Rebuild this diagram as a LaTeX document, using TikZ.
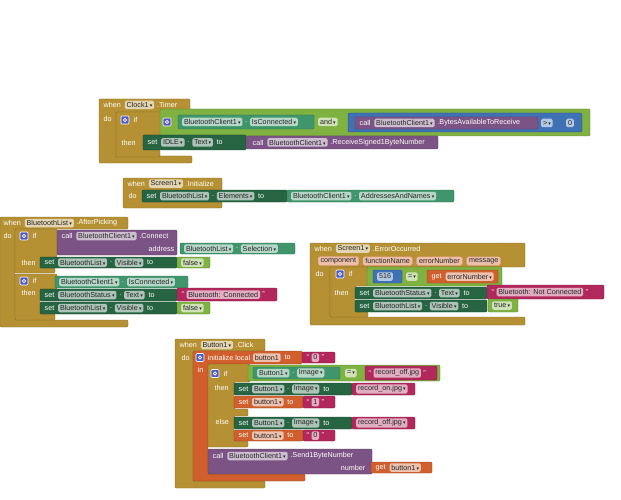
\documentclass[tikz,border=0pt]{standalone}
\usepackage{fontspec}
\setmainfont{Liberation Sans}
\newfontfamily\arrowfont{DejaVu Sans}
\usetikzlibrary{positioning}
\definecolor{cgold}{RGB}{182,145,52}
\definecolor{clime}{RGB}{128,178,66}
\definecolor{cteal}{RGB}{64,150,108}
\definecolor{cset}{RGB}{38,100,66}
\definecolor{cpurple}{RGB}{124,83,133}
\definecolor{cmag}{RGB}{178,40,92}
\definecolor{cblue}{RGB}{63,113,181}
\definecolor{corange}{RGB}{208,95,45}
\definecolor{cgear}{RGB}{84,92,196}
\newcommand{\dd}{\,{\arrowfont\fontsize{5}{5}\selectfont ▾}}
\tikzset{
  blk/.style={fill=#1,draw=#1!72!black,line width=.4pt,rounded corners=1.2pt},
  lbl/.style={text=white,inner sep=.5pt},
  fld/.style={fill=white,fill opacity=.62,text opacity=1,text=black!85,
    rounded corners=1.5pt,inner xsep=1.8pt,inner ysep=1.3pt,minimum height=8.5pt},
  prm/.style={fld,fill=corange!40!white,fill opacity=1,draw=corange!60!white,inner xsep=2.4pt},
  gearbox/.style={fill=cgear,draw=white,line width=.6pt,minimum size=8pt,
    inner sep=0pt,rounded corners=1pt,
    path picture={\draw[white,line width=.8pt]
      (path picture bounding box.center) circle (1.6pt);}}
}
\begin{document}
\begin{tikzpicture}[x=1pt,y=-1pt,font=\fontsize{7.2}{8}\selectfont]
\useasboundingbox (0,0) rectangle (621,500);
% --- Clock1.Timer
\draw[blk=cgold] (99,99) -- (190,99) -- (190,112) -- (116,112) -- (116,156) -- (192,156) -- (192,163) -- (99,163) -- cycle;
\draw[blk=cgold] (116,112) -- (162,112) -- (162,135) -- (143,135) -- (143,150) -- (160,150) -- (160,157) -- (116,157) -- cycle;
\draw[blk=clime] (160,109) rectangle (590,136);
\draw[blk=cteal] (178,115) rectangle (314,129);
\draw[blk=cblue] (348,113) rectangle (582,132);
\draw[blk=cpurple] (355,117) rectangle (538,129);
\draw[blk=cset] (143,135) rectangle (246,150);
\draw[blk=cpurple] (246,136) rectangle (438,149);
\node[lbl,anchor=west] (tmrWhen) at (103,105) {when};
\node[fld,right=3pt of tmrWhen] (tmrClk) {Clock1\dd};
\node[lbl,right=2pt of tmrClk] (tmrEvt) {.Timer};
\node[lbl,anchor=west] (tmrDo) at (103,119) {do};
\node[gearbox] (tmrGear) at (125,120) {};
\node[lbl,anchor=west] (tmrIf) at (133,120) {if};
\node[lbl,anchor=west] (tmrThen) at (121,142.5) {then};
\node[gearbox] (tmrGearB) at (167,122) {};
\node[fld,anchor=west] (tmrBtc) at (182,122) {BluetoothClient1\dd};
\node[lbl,right=2pt of tmrBtc] (tmrDot) {.};
\node[fld,right=2pt of tmrDot] (tmrIsc) {IsConnected\dd};
\node[fld,anchor=west] (tmrAnd) at (318,122) {and\dd};
\node[lbl,anchor=west] (tmrCall) at (359,123) {call};
\node[fld,right=3pt of tmrCall] (tmrBtcB) {BluetoothClient1\dd};
\node[lbl,right=2pt of tmrBtcB] (tmrBytes) {.BytesAvailableToReceive};
\node[fld,anchor=west] (tmrGt) at (541,123) {>\dd};
\node[fld,anchor=west] (tmrZero) at (566,123) {0};
\node[lbl,anchor=west] (tmrSet) at (147,142.5) {set};
\node[fld,right=3pt of tmrSet] (tmrIdle) {IDLE\dd};
\node[lbl,right=2pt of tmrIdle] (tmrDotB) {.};
\node[fld,right=2pt of tmrDotB] (tmrText) {Text\dd};
\node[lbl,right=3pt of tmrText] (tmrTo) {to};
\node[lbl,anchor=west] (tmrCallB) at (252,142.5) {call};
\node[fld,right=3pt of tmrCallB] (tmrBtcC) {BluetoothClient1\dd};
\node[lbl,right=2pt of tmrBtcC] (tmrRecv) {.ReceiveSigned1ByteNumber};
% --- Screen1.Initialize
\draw[blk=cgold] (123,178) -- (222,178) -- (222,190) -- (142,190) -- (142,202) -- (222,202) -- (222,208) -- (123,208) -- cycle;
\draw[blk=cset] (142,190) rectangle (287,202);
\draw[blk=cteal] (287,190) rectangle (454,202);
\node[lbl,anchor=west] (iniWhen) at (127,183.5) {when};
\node[fld,right=3pt of iniWhen] (iniScr) {Screen1\dd};
\node[lbl,right=2pt of iniScr] (iniEvt) {.Initialize};
\node[lbl,anchor=west] (iniDo) at (128,196) {do};
\node[lbl,anchor=west] (iniSet) at (146,196) {set};
\node[fld,right=3pt of iniSet] (iniList) {BluetoothList\dd};
\node[lbl,right=2pt of iniList] (iniDot) {.};
\node[fld,right=2pt of iniDot] (iniElem) {Elements\dd};
\node[lbl,right=3pt of iniElem] (iniTo) {to};
\node[fld,anchor=west] (iniBtc) at (291,196) {BluetoothClient1\dd};
\node[lbl,right=2pt of iniBtc] (iniDotB) {.};
\node[fld,right=2pt of iniDotB] (iniAddr) {AddressesAndNames\dd};
% --- BluetoothList.AfterPicking
\draw[blk=cgold] (0,217) -- (128,217) -- (128,229) -- (15,229) -- (15,320) -- (128,320) -- (128,327) -- (0,327) -- cycle;
\draw[blk=cgold] (15,229) -- (57,229) -- (57,257) -- (40,257) -- (40,268) -- (55,268) -- (55,273) -- (15,273) -- cycle;
\draw[blk=cgold] (15,274) -- (57,274) -- (57,289) -- (40,289) -- (40,314) -- (55,314) -- (55,320) -- (15,320) -- cycle;
\draw[blk=cpurple] (57,230) rectangle (177,255);
\draw[blk=cteal] (180,243) rectangle (295,254);
\draw[blk=cset] (40,257) rectangle (177,268);
\draw[blk=clime] (177,257) rectangle (210,268);
\draw[blk=cteal] (55,276) rectangle (188,288);
\draw[blk=cset] (40,289) rectangle (177,301);
\draw[blk=cmag] (177,288) rectangle (277,301);
\draw[blk=cset] (40,302) rectangle (177,314);
\draw[blk=clime] (177,302) rectangle (210,314);
\node[lbl,anchor=west] (pckWhen) at (3,223) {when};
\node[fld,right=3pt of pckWhen] (pckList) {BluetoothList\dd};
\node[lbl,right=2pt of pckList] (pckEvt) {.AfterPicking};
\node[lbl,anchor=west] (pckDo) at (3,236) {do};
\node[gearbox] (pckGear) at (24,236) {};
\node[lbl,anchor=west] (pckIf) at (32,236) {if};
\node[lbl,anchor=west] (pckCall) at (61,236) {call};
\node[fld,right=3pt of pckCall] (pckBtc) {BluetoothClient1\dd};
\node[lbl,right=2pt of pckBtc] (pckConn) {.Connect};
\node[lbl,anchor=east] (pckAddr) at (175,248.5) {address};
\node[fld,anchor=west] (pckListB) at (184,248.5) {BluetoothList\dd};
\node[lbl,right=2pt of pckListB] (pckDot) {.};
\node[fld,right=2pt of pckDot] (pckSel) {Selection\dd};
\node[lbl,anchor=west] (pckThen) at (21,262.5) {then};
\node[lbl,anchor=west] (pckSet) at (44,262.5) {set};
\node[fld,right=3pt of pckSet] (pckListC) {BluetoothList\dd};
\node[lbl,right=2pt of pckListC] (pckDotB) {.};
\node[fld,right=2pt of pckDotB] (pckVis) {Visible\dd};
\node[lbl,right=3pt of pckVis] (pckTo) {to};
\node[fld,anchor=west] (pckFalse) at (181,262.5) {false\dd};
\node[gearbox] (pckGearB) at (24,281) {};
\node[lbl,anchor=west] (pckIfB) at (32,281) {if};
\node[fld,anchor=west] (pckBtcB) at (59,282) {BluetoothClient1\dd};
\node[lbl,right=2pt of pckBtcB] (pckDotC) {.};
\node[fld,right=2pt of pckDotC] (pckIsc) {IsConnected\dd};
\node[lbl,anchor=west] (pckThenB) at (21,293) {then};
\node[lbl,anchor=west] (pckSetB) at (44,295) {set};
\node[fld,right=3pt of pckSetB] (pckStat) {BluetoothStatus\dd};
\node[lbl,right=2pt of pckStat] (pckDotD) {.};
\node[fld,right=2pt of pckDotD] (pckText) {Text\dd};
\node[lbl,right=3pt of pckText] (pckToB) {to};
\node[lbl,anchor=west] (pckQa) at (181,294.5) {“};
\node[fld,right=1.5pt of pckQa] (pckConnd) {Bluetooth: Connected};
\node[lbl,right=1.5pt of pckConnd] (pckQb) {”};
\node[lbl,anchor=west] (pckSetC) at (44,308) {set};
\node[fld,right=3pt of pckSetC] (pckListD) {BluetoothList\dd};
\node[lbl,right=2pt of pckListD] (pckDotE) {.};
\node[fld,right=2pt of pckDotE] (pckVisB) {Visible\dd};
\node[lbl,right=3pt of pckVisB] (pckToC) {to};
\node[fld,anchor=west] (pckFalseB) at (181,308) {false\dd};
% --- Screen1.ErrorOccurred
\draw[blk=cgold] (310,243) -- (525,243) -- (525,267) -- (330,267) -- (330,317) -- (525,317) -- (525,325) -- (310,325) -- cycle;
\draw[blk=cgold] (330,267) -- (368,267) -- (368,286) -- (355,286) -- (355,312) -- (368,312) -- (368,317) -- (330,317) -- cycle;
\draw[blk=clime] (367,267) rectangle (502,286);
\draw[blk=cblue] (373,270) rectangle (402,283);
\draw[blk=corange] (427,270) rectangle (498,283);
\draw[blk=cset] (355,287) rectangle (487,299);
\draw[blk=cmag] (487,285) rectangle (604,299);
\draw[blk=cset] (355,300) rectangle (487,312);
\draw[blk=clime] (488,299) rectangle (518,312);
\node[lbl,anchor=west] (errWhen) at (314,248.5) {when};
\node[fld,right=3pt of errWhen] (errScr) {Screen1\dd};
\node[lbl,right=2pt of errScr] (errEvt) {.ErrorOccurred};
\node[prm,anchor=west] (errComp) at (318,261) {component};
\node[prm,right=4pt of errComp] (errFunc) {functionName};
\node[prm,right=4pt of errFunc] (errNum) {errorNumber};
\node[prm,right=4pt of errNum] (errMsg) {message};
\node[lbl,anchor=west] (errDo) at (315,274) {do};
\node[gearbox] (errGear) at (340,274) {};
\node[lbl,anchor=west] (errIf) at (348,274) {if};
\node[lbl,anchor=west] (errThen) at (334,293) {then};
\node[fld,anchor=west] (errCode) at (377,276.5) {516};
\node[fld,anchor=west] (errEq) at (406,276.5) {=\dd};
\node[lbl,anchor=west] (errGet) at (431,276.5) {get};
\node[fld,right=3pt of errGet] (errNumB) {errorNumber\dd};
\node[lbl,anchor=west] (errSet) at (359,293) {set};
\node[fld,right=3pt of errSet] (errStat) {BluetoothStatus\dd};
\node[lbl,right=2pt of errStat] (errDot) {.};
\node[fld,right=2pt of errDot] (errText) {Text\dd};
\node[lbl,right=3pt of errText] (errTo) {to};
\node[lbl,anchor=west] (errQa) at (491,292) {“};
\node[fld,right=1.5pt of errQa] (errNotc) {Bluetooth: Not Connected};
\node[lbl,right=1.5pt of errNotc] (errQb) {”};
\node[lbl,anchor=west] (errSetB) at (359,306) {set};
\node[fld,right=3pt of errSetB] (errList) {BluetoothList\dd};
\node[lbl,right=2pt of errList] (errDotB) {.};
\node[fld,right=2pt of errDotB] (errVis) {Visible\dd};
\node[lbl,right=3pt of errVis] (errToB) {to};
\node[fld,anchor=west] (errTrue) at (492,305.5) {true\dd};
% --- Button1.Click
\draw[blk=cgold] (175,339) -- (265,339) -- (265,351) -- (193,351) -- (193,481) -- (265,481) -- (265,488) -- (175,488) -- cycle;
\draw[blk=corange] (193,351) -- (302,351) -- (302,364) -- (208,364) -- (208,474) -- (305,474) -- (305,481) -- (193,481) -- cycle;
\draw[blk=cmag] (302,352) rectangle (335,363);
\draw[blk=cgold] (208,364) -- (250,364) -- (250,382) -- (234,382) -- (234,409) -- (248,409) -- (248,416) -- (234,416) -- (234,441) -- (248,441) -- (248,447) -- (208,447) -- cycle;
\draw[blk=clime] (248,365) rectangle (440,381);
\draw[blk=cteal] (253,367) rectangle (340,379);
\draw[blk=cmag] (365,366) rectangle (437,380);
\draw[blk=cset] (234,383) rectangle (352,395);
\draw[blk=cmag] (352,383) rectangle (415,395);
\draw[blk=corange] (234,396) rectangle (303,408);
\draw[blk=cmag] (303,396) rectangle (335,408);
\draw[blk=cset] (234,417) rectangle (352,429);
\draw[blk=cmag] (352,417) rectangle (415,429);
\draw[blk=corange] (234,430) rectangle (303,441);
\draw[blk=cmag] (303,430) rectangle (335,441);
\draw[blk=cpurple] (208,449) rectangle (372,474);
\draw[blk=corange] (371,462) rectangle (432,473);
\node[lbl,anchor=west] (clkWhen) at (179,345) {when};
\node[fld,right=3pt of clkWhen] (clkBtn) {Button1\dd};
\node[lbl,right=2pt of clkBtn] (clkEvt) {.Click};
\node[lbl,anchor=west] (clkDo) at (181,358) {do};
\node[gearbox] (clkGear) at (200,357.5) {};
\node[lbl,anchor=west] (clkInit) at (207,357.5) {initialize local};
\node[fld,right=2pt of clkInit] (clkVar) {button1};
\node[lbl,right=3pt of clkVar] (clkTo) {to};
\node[lbl,anchor=west] (clkQa) at (306,357.5) {“};
\node[fld,right=1.5pt of clkQa] (clkZero) {0};
\node[lbl,right=1.5pt of clkZero] (clkQb) {”};
\node[lbl,anchor=west] (clkIn) at (197,370) {in};
\node[gearbox] (clkGearB) at (215,373.5) {};
\node[lbl,anchor=west] (clkIf) at (223,373.5) {if};
\node[lbl,anchor=west] (clkThen) at (214,388) {then};
\node[lbl,anchor=west] (clkElse) at (215,422) {else};
\node[fld,anchor=west] (clkBtnB) at (257,373) {Button1\dd};
\node[lbl,right=2pt of clkBtnB] (clkDot) {.};
\node[fld,right=2pt of clkDot] (clkImg) {Image\dd};
\node[fld,anchor=west] (clkEq) at (345,373) {=\dd};
\node[lbl,anchor=west] (clkQc) at (368,373) {“};
\node[fld,right=1.5pt of clkQc] (clkOff) {record\_off.jpg};
\node[lbl,right=1.5pt of clkOff] (clkQd) {”};
\node[lbl,anchor=west] (clkSet) at (238,389) {set};
\node[fld,right=3pt of clkSet] (clkBtnC) {Button1\dd};
\node[lbl,right=2pt of clkBtnC] (clkDotB) {.};
\node[fld,right=2pt of clkDotB] (clkImgB) {Image\dd};
\node[lbl,right=3pt of clkImgB] (clkToB) {to};
\node[fld,anchor=west] (clkOn) at (356,389) {record\_on.jpg\dd};
\node[lbl,anchor=west] (clkSetB) at (238,402) {set};
\node[fld,right=3pt of clkSetB] (clkVarB) {button1\dd};
\node[lbl,right=3pt of clkVarB] (clkToC) {to};
\node[lbl,anchor=west] (clkQe) at (306,402) {“};
\node[fld,right=1.5pt of clkQe] (clkOne) {1};
\node[lbl,right=1.5pt of clkOne] (clkQf) {”};
\node[lbl,anchor=west] (clkSetC) at (238,423) {set};
\node[fld,right=3pt of clkSetC] (clkBtnD) {Button1\dd};
\node[lbl,right=2pt of clkBtnD] (clkDotC) {.};
\node[fld,right=2pt of clkDotC] (clkImgC) {Image\dd};
\node[lbl,right=3pt of clkImgC] (clkToD) {to};
\node[fld,anchor=west] (clkOffB) at (356,423) {record\_off.jpg\dd};
\node[lbl,anchor=west] (clkSetD) at (238,435.5) {set};
\node[fld,right=3pt of clkSetD] (clkVarC) {button1\dd};
\node[lbl,right=3pt of clkVarC] (clkToE) {to};
\node[lbl,anchor=west] (clkQg) at (306,435.5) {“};
\node[fld,right=1.5pt of clkQg] (clkZeroB) {0};
\node[lbl,right=1.5pt of clkZeroB] (clkQh) {”};
\node[lbl,anchor=west] (clkCall) at (212,456) {call};
\node[fld,right=3pt of clkCall] (clkBtc) {BluetoothClient1\dd};
\node[lbl,right=2pt of clkBtc] (clkSend) {.Send1ByteNumber};
\node[lbl,anchor=east] (clkNum) at (366,467.5) {number};
\node[lbl,anchor=west] (clkGet) at (375,467.5) {get};
\node[fld,right=3pt of clkGet] (clkVarD) {button1\dd};
\end{tikzpicture}
\end{document}
